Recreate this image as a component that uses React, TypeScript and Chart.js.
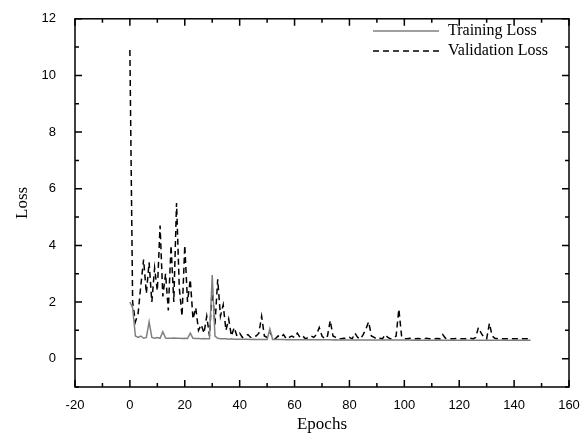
import React, { useEffect, useRef } from "react";
import { Chart, registerables } from "chart.js";
Chart.register(...registerables);

const trainingLoss = [
  2.0, 1.8, 0.8, 0.75, 0.8, 0.72, 0.75, 1.3, 0.75, 0.72,
  0.75, 0.72, 0.95, 0.73, 0.72, 0.72, 0.73, 0.72, 0.72, 0.71,
  0.72, 0.71, 0.9, 0.72, 0.71, 0.71, 0.7, 0.71, 0.7, 0.7,
  2.95, 0.8, 0.72, 0.7, 0.7, 0.7, 0.69, 0.7, 0.69, 0.69,
  0.69, 0.69, 0.69, 0.69, 0.68, 0.69, 0.68, 0.68, 0.68, 0.68,
  0.68, 1.05, 0.68, 0.68, 0.68, 0.68, 0.68, 0.67, 0.68, 0.67,
  0.67, 0.67, 0.67, 0.67, 0.67, 0.67, 0.67, 0.67, 0.67, 0.67,
  0.67, 0.67, 0.67, 0.67, 0.66, 0.67, 0.66, 0.66, 0.66, 0.66,
  0.66, 0.66, 0.66, 0.66, 0.66, 0.66, 0.66, 0.66, 0.66, 0.66,
  0.66, 0.66, 0.66, 0.66, 0.66, 0.66, 0.66, 0.66, 0.66, 0.66,
  0.66, 0.66, 0.66, 0.65, 0.66, 0.65, 0.65, 0.65, 0.65, 0.65,
  0.65, 0.65, 0.65, 0.65, 0.65, 0.65, 0.65, 0.65, 0.65, 0.65,
  0.65, 0.65, 0.65, 0.65, 0.65, 0.65, 0.65, 0.65, 0.65, 0.65,
  0.65, 0.65, 0.65, 0.65, 0.65, 0.65, 0.65, 0.65, 0.65, 0.65,
  0.65, 0.65, 0.65, 0.65, 0.65, 0.65, 0.65,
];

const validationLoss = [
  10.9, 2.0, 1.3, 1.6, 2.6, 3.5, 2.3, 3.4, 2.0, 3.2,
  2.4, 4.7, 2.2, 3.0, 1.7, 4.0, 2.0, 5.5, 2.5, 1.5,
  4.0, 2.0, 2.8, 1.4, 1.8, 1.0, 1.2, 0.9, 1.5, 0.8,
  2.5, 1.2, 2.8, 1.5, 1.9, 1.0, 1.4, 0.8, 1.1, 0.8,
  0.9, 0.75, 0.8, 0.85, 0.75, 0.8, 0.8, 0.9, 1.5, 0.8,
  0.75, 0.95, 0.75, 0.7, 0.8, 0.75, 0.85, 0.7, 0.75, 0.8,
  0.75, 0.9, 0.75, 0.8, 0.7, 0.75, 0.8, 0.75, 0.85, 1.1,
  0.8, 0.7, 0.8, 1.35, 0.8, 0.75, 0.7, 0.7, 0.72, 0.7,
  0.75, 0.7, 0.9, 0.75, 0.7, 0.85, 1.05, 1.3, 0.8, 0.75,
  0.7, 0.72, 0.7, 0.85, 0.75, 0.7, 0.72, 0.8, 1.75, 0.8,
  0.7, 0.7, 0.72, 0.7, 0.7, 0.71, 0.7, 0.7, 0.72, 0.7,
  0.7, 0.7, 0.71, 0.7, 0.85, 0.72, 0.7, 0.7, 0.7, 0.71,
  0.7, 0.7, 0.7, 0.7, 0.72, 0.7, 0.75, 1.1, 0.9, 0.75,
  0.7, 1.25, 0.8, 0.72, 0.7, 0.7, 0.7, 0.7, 0.7, 0.7,
  0.7, 0.7, 0.7, 0.7, 0.7, 0.7, 0.7,
];

const xTickLabels = [-20, 0, 20, 40, 60, 80, 100, 120, 140, 160];
const yTickLabels = [0, 2, 4, 6, 8, 10, 12];
const seriesNames = ["Training Loss", "Validation Loss"];

export default function App() {
  const ref = useRef<HTMLCanvasElement>(null);
  useEffect(() => {
    document.body.style.margin = "0";
    const framePlugin = {
      id: "frame",
      afterDraw(chart: any) {
        const ctx = chart.ctx;
        const { left, right, top, bottom } = chart.chartArea;
        const xs = chart.scales.x;
        const ys = chart.scales.y;
        ctx.save();
        ctx.strokeStyle = "#000";
        ctx.lineWidth = 1.5;
        ctx.setLineDash([]);
        ctx.strokeRect(left, top, right - left, bottom - top);
        ctx.beginPath();
        for (let v = -20; v <= 160; v += 10) {
          const px = xs.getPixelForValue(v);
          const len = v % 20 === 0 ? 7 : 4;
          ctx.moveTo(px, bottom);
          ctx.lineTo(px, bottom - len);
          ctx.moveTo(px, top);
          ctx.lineTo(px, top + len);
        }
        for (let v = -1; v <= 12; v += 1) {
          const py = ys.getPixelForValue(v);
          const len = v % 2 === 0 ? 7 : 4;
          ctx.moveTo(left, py);
          ctx.lineTo(left + len, py);
          ctx.moveTo(right, py);
          ctx.lineTo(right - len, py);
        }
        ctx.stroke();

        // legend
        ctx.font = "16px 'Liberation Serif', 'Times New Roman', serif";
        ctx.fillStyle = "#000";
        ctx.textBaseline = "middle";
        ctx.textAlign = "left";
        ctx.lineWidth = 1.5;
        ctx.strokeStyle = "#808080";
        ctx.beginPath();
        ctx.moveTo(373, 31);
        ctx.lineTo(439, 31);
        ctx.stroke();
        ctx.fillText(seriesNames[0], 448, 31);
        ctx.strokeStyle = "#000";
        ctx.setLineDash([6, 4]);
        ctx.beginPath();
        ctx.moveTo(373, 51);
        ctx.lineTo(439, 51);
        ctx.stroke();
        ctx.setLineDash([]);
        ctx.fillText(seriesNames[1], 448, 51);
        ctx.restore();
      },
    };

    const chart = new Chart(ref.current as HTMLCanvasElement, {
      type: "line",
      data: {
        datasets: [
          {
            label: seriesNames[0],
            data: trainingLoss.map((y, i) => ({ x: i, y })),
            borderColor: "#808080",
            borderWidth: 1.5,
            pointRadius: 0,
            tension: 0,
          },
          {
            label: seriesNames[1],
            data: validationLoss.map((y, i) => ({ x: i, y })),
            borderColor: "#000",
            borderWidth: 1.5,
            borderDash: [6, 4],
            pointRadius: 0,
            tension: 0,
          },
        ],
      },
      options: {
        responsive: false,
        animation: false,
        layout: { padding: { top: 16, right: 19, left: 0, bottom: 0 } },
        plugins: { legend: { display: false }, tooltip: { enabled: false } },
        scales: {
          x: {
            type: "linear",
            min: -20,
            max: 160,
            grid: { display: false },
            border: { display: false },
            afterBuildTicks(s: any) {
              s.ticks = xTickLabels.map((v) => ({ value: v }));
            },
            afterFit(s: any) {
              s.height = 54;
            },
            ticks: {
              padding: 3,
              color: "#000",
              maxRotation: 0,
              autoSkip: false,
              font: { family: "'Liberation Sans', Arial, sans-serif", size: 13 },
            },
            title: {
              display: true,
              text: "Epochs",
              color: "#000",
              font: { family: "'Liberation Serif', 'Times New Roman', serif", size: 17 },
              padding: { top: 0, bottom: 6 },
            },
          },
          y: {
            type: "linear",
            min: -1,
            max: 12,
            grid: { display: false },
            border: { display: false },
            afterBuildTicks(s: any) {
              s.ticks = yTickLabels.map((v) => ({ value: v }));
            },
            afterFit(s: any) {
              s.width = 75;
            },
            ticks: {
              padding: 11,
              color: "#000",
              autoSkip: false,
              font: { family: "'Liberation Sans', Arial, sans-serif", size: 13 },
            },
            title: {
              display: true,
              text: "Loss",
              color: "#000",
              font: { family: "'Liberation Serif', 'Times New Roman', serif", size: 17 },
              padding: { top: 12, bottom: 0 },
            },
          },
        },
      },
      plugins: [framePlugin],
    } as any);
    return () => chart.destroy();
  }, []);
  return (
    <div style={{ width: 588, height: 441 }}>
      <canvas ref={ref} width={588} height={441} style={{ display: "block" }} />
    </div>
  );
}
